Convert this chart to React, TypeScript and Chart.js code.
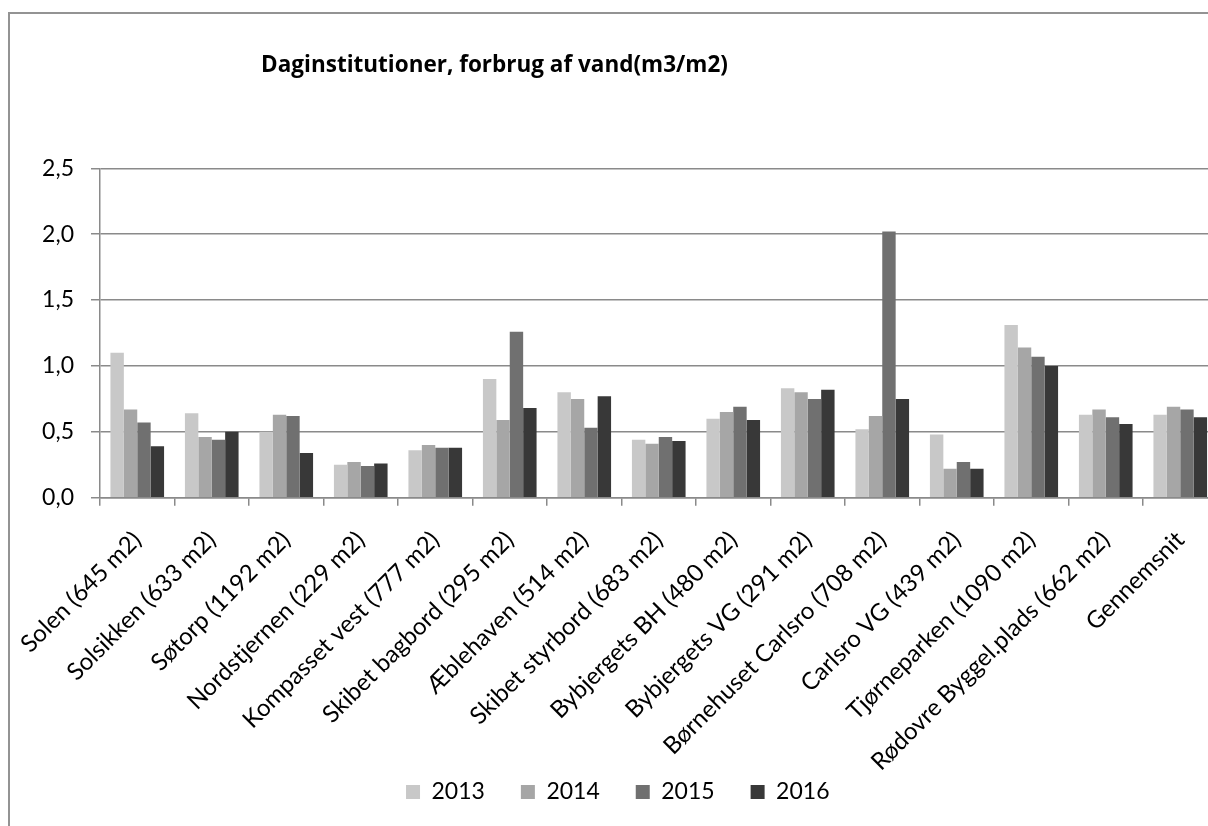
import React, { useEffect, useRef } from "react";
import { Chart, registerables } from "chart.js";

Chart.register(...registerables);

const TITLE = "Daginstitutioner, forbrug af vand(m3/m2)";

const categories = [
  "Solen (645 m2)",
  "Solsikken (633 m2)",
  "Søtorp (1192 m2)",
  "Nordstjernen (229 m2)",
  "Kompasset vest (777 m2)",
  "Skibet bagbord (295 m2)",
  "Æblehaven (514 m2)",
  "Skibet styrbord (683 m2)",
  "Bybjergets BH (480 m2)",
  "Bybjergets VG (291 m2)",
  "Børnehuset Carlsro (708 m2)",
  "Carlsro VG (439 m2)",
  "Tjørneparken (1090 m2)",
  "Rødovre Byggel.plads (662 m2)",
  "Gennemsnit",
];

const seriesNames = ["2013", "2014", "2015", "2016"];
const seriesColors = ["#C8C8C8", "#A6A6A6", "#707070", "#383838"];

const values2013 = [1.1, 0.64, 0.5, 0.25, 0.36, 0.9, 0.8, 0.44, 0.6, 0.83, 0.52, 0.48, 1.31, 0.63, 0.63];
const values2014 = [0.67, 0.46, 0.63, 0.27, 0.4, 0.59, 0.75, 0.41, 0.65, 0.8, 0.62, 0.22, 1.14, 0.67, 0.69];
const values2015 = [0.57, 0.44, 0.62, 0.24, 0.38, 1.26, 0.53, 0.46, 0.69, 0.75, 2.02, 0.27, 1.07, 0.61, 0.67];
const values2016 = [0.39, 0.5, 0.34, 0.26, 0.38, 0.68, 0.77, 0.43, 0.59, 0.82, 0.75, 0.22, 1.0, 0.56, 0.61];

const yMin = 0;
const yMax = 2.5;
const yStep = 0.5;

const FONT = "Lato, 'Open Sans', sans-serif";
const TITLE_FONT = "'Open Sans', 'Noto Sans', sans-serif";
const GRID = "#8a8a8a";
const FRAME = "#939393";
const LEGEND_PAD = 36;
const LEGEND_FONT = 23;
const LEGEND_ROW_Y = 778; // canvas y of the legend row centre
const CANVAS_W = 1214;
const CANVAS_H = 850;

const titlePlugin = {
  id: "customTitle",
  afterDraw(chart: any) {
    const ctx = chart.ctx;
    ctx.save();
    ctx.font = `bold 22.5px ${TITLE_FONT}`;
    ctx.fillStyle = "#000";
    ctx.textAlign = "center";
    ctx.textBaseline = "alphabetic";
    ctx.fillText(TITLE, 484.5, 57.7);
    ctx.restore();
  },
};

const legendPlacePlugin = {
  id: "legendPlace",
  afterLayout(chart: any) {
    const lg = chart.legend;
    if (!lg) return;
    const cur = lg.top + LEGEND_PAD + LEGEND_FONT / 2;
    const d = LEGEND_ROW_Y - cur;
    lg.top += d;
    lg.bottom += d;
  },
};

export default function App() {
  const ref = useRef<HTMLCanvasElement>(null);

  useEffect(() => {
    const allValues = [values2013, values2014, values2015, values2016];
    const chart = new Chart(ref.current as HTMLCanvasElement, {
      type: "bar",
      data: {
        labels: categories,
        datasets: seriesNames.map((name, i) => ({
          label: name,
          data: allValues[i],
          backgroundColor: seriesColors[i],
          borderWidth: 0,
          categoryPercentage: 0.72,
          barPercentage: 1.0,
        })),
      },
      options: {
        animation: false,
        responsive: false,
        devicePixelRatio: 1,
        layout: { padding: { top: 154.3, left: 8, right: 6.5, bottom: 0 } },
        plugins: {
          title: { display: false },
          tooltip: { enabled: false },
          legend: {
            display: true,
            position: "bottom",
            labels: {
              boxWidth: 14,
              boxHeight: 14,
              padding: LEGEND_PAD,
              color: "#000",
              font: { family: FONT, size: LEGEND_FONT },
            },
          },
        },
        scales: {
          x: {
            grid: {
              display: true,
              drawOnChartArea: false,
              drawTicks: true,
              tickLength: 8,
              color: GRID,
              lineWidth: 1.5,
              offset: true,
            },
            border: { display: true, color: GRID, width: 1.5 },
            ticks: {
              autoSkip: false,
              maxRotation: 45,
              minRotation: 45,
              padding: 20,
              color: "#000",
              font: { family: FONT, size: 24 },
            },
            afterFit: (s: any) => {
              s.height = CANVAS_H - 69 - 483.7;
              s.paddingLeft = 0;
              s.paddingRight = 0;
            },
          },
          y: {
            min: yMin,
            max: yMax,
            grid: { color: GRID, lineWidth: 1.5, tickLength: 9, drawTicks: true },
            border: { display: true, color: GRID, width: 1.5 },
            ticks: {
              stepSize: yStep,
              padding: 17,
              color: "#000",
              font: { family: FONT, size: 23 },
              callback: (v: any) => Number(v).toFixed(1).replace(".", ","),
            },
            afterFit: (s: any) => {
              s.width = 82;
              s.paddingTop = 0;
              s.paddingBottom = 0;
            },
          },
        },
      },
      plugins: [titlePlugin, legendPlacePlugin],
    });
    return () => chart.destroy();
  }, []);

  return (
    <div style={{ position: "absolute", left: 0, top: 0, width: 1208, height: 826, overflow: "hidden", background: "#fff" }}>
      <div
        style={{
          position: "absolute",
          left: 8,
          top: 12,
          width: 1240,
          height: 880,
          borderLeft: `2px solid ${FRAME}`,
          borderTop: `2px solid ${FRAME}`,
        }}
      >
        <canvas ref={ref} width={CANVAS_W} height={CANVAS_H} style={{ display: "block" }} />
      </div>
    </div>
  );
}
